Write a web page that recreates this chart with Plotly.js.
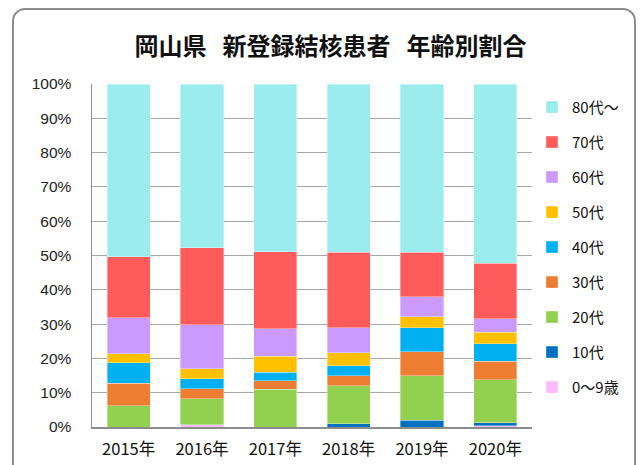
<!DOCTYPE html>
<html>
<head>
<meta charset="utf-8">
<script src="https://cdn.plot.ly/plotly-3.0.1.min.js"></script>
<style>
  html, body { margin: 0; padding: 0; background: #fff; }
  #wrap { position: relative; width: 641px; height: 465px; overflow: hidden; }
  #frame { position: absolute; left: 12px; top: 8px; width: 624px; height: 470px;
           border: 2px solid #8c8c8c; border-radius: 13px; box-sizing: border-box; pointer-events: none; }
  #chart { position: absolute; left: 0; top: 0; width: 641px; height: 465px; }
</style>
</head>
<body>
<div id="wrap">
  <div id="chart"></div>
  <div id="frame"></div>
</div>
<script>
const years = ['2015年', '2016年', '2017年', '2018年', '2019年', '2020年'];
const seriesNames = ['0～9歳', '10代', '20代', '30代', '40代', '50代', '60代', '70代', '80代～'];
const age0_9 = [0.0, 0.6, 0.0, 0.0, 0.0, 0.3];
const age10 = [0.0, 0.0, 0.0, 0.9, 2.0, 0.9];
const age20 = [6.2, 7.6, 11.0, 11.2, 13.0, 12.6];
const age30 = [6.5, 3.0, 2.5, 2.8, 7.0, 5.3];
const age40 = [6.1, 2.8, 2.5, 2.9, 7.0, 5.2];
const age50 = [2.6, 3.0, 4.6, 3.8, 3.1, 3.3];
const age60 = [10.4, 12.8, 8.1, 7.4, 5.9, 3.9];
const age70 = [17.9, 22.5, 22.4, 22.0, 13.0, 16.2];
const age80 = [50.3, 47.7, 48.9, 49.0, 49.0, 52.3];
const yTickVals = [0, 10, 20, 30, 40, 50, 60, 70, 80, 90, 100];
const yTickText = ['0%', '10%', '20%', '30%', '40%', '50%', '60%', '70%', '80%', '90%', '100%'];

const seriesValues = [age0_9, age10, age20, age30, age40, age50, age60, age70, age80];
const colors = ['#FFBBFF', '#0070C0', '#92D050', '#ED7D31', '#00B0F0', '#FFC000', '#CC99FF', '#FF5B5B', '#9BECEC'];

const traces = seriesNames.map((name, i) => ({
  type: 'bar',
  name: name,
  x: years,
  y: seriesValues[i],
  legendgroup: 'g' + i,
  legendrank: 100 - i,
  marker: { color: colors[i], line: { color: 'rgba(255,255,255,0.6)', width: 0.6 } },
  hoverinfo: 'none'
}));

const layout = {
  width: 641,
  height: 465,
  barmode: 'stack',
  bargap: 0.41,
  paper_bgcolor: '#ffffff',
  plot_bgcolor: '#ffffff',
  font: { family: '"Noto Sans CJK JP", "Noto Sans", sans-serif', color: '#222', size: 15 },
  margin: { l: 92, r: 109, t: 84, b: 38 },
  title: {
    text: '<b>岡山県\u2002\u2006新登録結核患者\u2002\u2006年齢別割合</b>',
    font: { family: '"Noto Sans CJK JP", sans-serif', size: 24, color: '#111' },
    x: 0.542, xanchor: 'center', y: 0.9, yanchor: 'middle', xref: 'paper', yref: 'container'
  },
  xaxis: {
    type: 'category',
    showline: true, linecolor: '#8c8c8c', linewidth: 1.5,
    ticks: '', showgrid: false,
    tickfont: { family: '"Noto Sans CJK JP", sans-serif', size: 16.5, color: '#111' },
    ticklabelstandoff: 7
  },
  yaxis: {
    range: [0, 100],
    tickvals: yTickVals,
    ticktext: yTickText,
    showline: true, linecolor: '#8c8c8c', linewidth: 1.5,
    showgrid: true, gridcolor: '#a6a6a6', gridwidth: 1,
    zeroline: false, ticks: '',
    tickfont: { family: '"Liberation Sans", "DejaVu Sans", sans-serif', size: 15.5, color: '#222' },
    ticklabelstandoff: 16
  },
  legend: {
    x: 1.0, xanchor: 'left', xref: 'paper',
    y: 0.98, yanchor: 'top',
    traceorder: 'grouped',
    tracegroupgap: 12.5,
    font: { family: '"Noto Sans CJK JP", sans-serif', size: 15, color: '#111' },
    bgcolor: 'rgba(0,0,0,0)'
  },
  showlegend: true
};

Plotly.newPlot('chart', traces, layout, { displayModeBar: false, staticPlot: true });
</script>
</body>
</html>
